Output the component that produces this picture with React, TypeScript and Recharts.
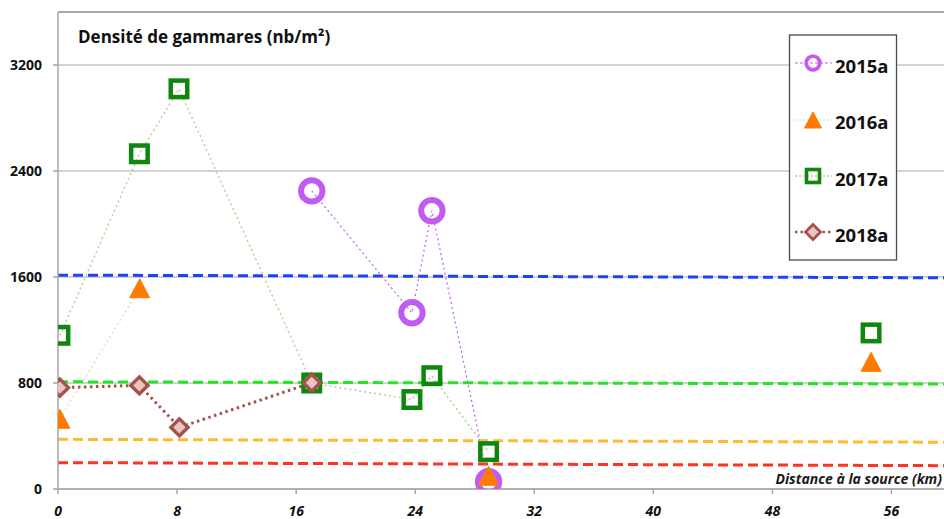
import React from "react";
import { ComposedChart, Line, XAxis, YAxis, CartesianGrid, ReferenceLine } from "recharts";

const xTicks = [0, 8, 16, 24, 32, 40, 48, 56];
const yTicks = [0, 800, 1600, 2400, 3200];

const dist2015 = [17.05, 23.78, 25.12, 28.93];
const dens2015 = [2250, 1330, 2100, 55];
const dist2016 = [0.13, 5.49, 28.93, 54.63];
const dens2016 = [530, 1515, 100, 960];
const dist2017 = [0.13, 5.47, 8.13, 17.05, 23.78, 25.12, 28.93, 54.63];
const dens2017 = [1160, 2530, 3020, 800, 675, 855, 282, 1178];
const dist2018 = [0.13, 5.47, 8.16, 17.05];
const dens2018 = [765, 782, 465, 802];

const refX = [0, 60];
const refBlue = [1614, 1594];
const refGreen = [809, 792];
const refOrange = [375, 353];
const refRed = [199, 176];

const seriesNames = ["2015a", "2016a", "2017a", "2018a"];

const mk = (xs: number[], ys: number[]) => xs.map((x, i) => ({ x, y: ys[i] }));

const data2015 = mk(dist2015, dens2015);
const data2016 = mk(dist2016, dens2016);
const data2017 = mk(dist2017, dens2017);
const data2018 = mk(dist2018, dens2018);
const path2016 = data2016.slice(0, 2);
const path2017 = data2017.slice(0, 7);

const FONT = '"Open Sans", "DejaVu Sans", sans-serif';
const PURPLE = "#c15cf2";
const ORANGE = "#ff7a00";
const GREEN = "#0f870f";
const BROWN = "#a2534d";
const BROWN_FILL = "#e8c5c1";

const CircleMark = ({ cx, cy, r = 10.7, sw = 6 }: any) => (
  <circle cx={cx} cy={cy} r={r} fill="none" stroke={PURPLE} strokeWidth={sw} />
);
const TriMark = ({ cx, cy, w = 20, h = 19 }: any) => (
  <polygon
    points={`${cx},${cy - h / 2} ${cx + w / 2},${cy + h / 2} ${cx - w / 2},${cy + h / 2}`}
    fill={ORANGE}
    stroke={ORANGE}
    strokeWidth={1}
    strokeLinejoin="round"
  />
);
const SqMark = ({ cx, cy, s = 16.5, sw = 4.5 }: any) => (
  <rect x={cx - s / 2} y={cy - s / 2} width={s} height={s} fill="none" stroke={GREEN} strokeWidth={sw} />
);
const DiaMark = ({ cx, cy, d = 8.5, sw = 3.5 }: any) => (
  <polygon
    points={`${cx},${cy - d} ${cx + d},${cy} ${cx},${cy + d} ${cx - d},${cy}`}
    fill={BROWN_FILL}
    stroke={BROWN}
    strokeWidth={sw}
    strokeLinejoin="miter"
  />
);

const dotFn = (Comp: any) => (props: any) => {
  if (props.cx == null || props.cy == null || props.value == null) return <g key={props.index} />;
  return <Comp key={props.index} cx={props.cx} cy={props.cy} />;
};

const XLabel = (props: any) => {
  const vb = props.viewBox || {};
  return (
    <text
      x={vb.x + vb.width - 9}
      y={vb.y - 5}
      textAnchor="end"
      fontFamily={FONT}
      fontSize={14}
      fontWeight={700}
      fontStyle="italic"
      fill="#1a1a1a"
    >
      Distance à la source (km)
    </text>
  );
};

export default function App() {
  const legendRows = [
    { y: 63, tb: 72.5, line: { stroke: PURPLE, dash: "3 2", w: 1.2 }, mark: <CircleMark cx={813} cy={63} r={6.8} sw={3.8} /> },
    { y: 120, tb: 129.3, line: { stroke: "#b6f0a8", dash: "2 2", w: 1.2 }, mark: <TriMark cx={813} cy={120} w={17} h={16} /> },
    { y: 176, tb: 185.7, line: { stroke: "#bccf96", dash: "2 2", w: 1.4 }, mark: <SqMark cx={813} cy={176} s={13} sw={3.6} /> },
    { y: 232, tb: 242.3, line: { stroke: BROWN, dash: "2.5 3", w: 2.6 }, mark: <DiaMark cx={813} cy={232} d={7.5} sw={2.8} /> },
  ];
  return (
    <div
      style={{
        position: "absolute",
        left: 0,
        top: 0,
        width: 944,
        height: 519,
        overflow: "hidden",
        background: "#fff",
      }}
    >
      <ComposedChart width={952} height={519} margin={{ top: 12, right: 1, bottom: 0, left: 0 }}>
        <CartesianGrid vertical={false} stroke="#c4c4c4" strokeWidth={1.5} />
        <ReferenceLine y={3600} stroke="#a8a8a8" strokeWidth={2} ifOverflow="extendDomain" />
        <XAxis
          type="number"
          dataKey="x"
          domain={[0, 60]}
          ticks={xTicks}
          height={30}
          tickSize={5}
          tickMargin={12}
          interval={0}
          axisLine={{ stroke: "#a6a6a6", strokeWidth: 1.5 }}
          tickLine={{ stroke: "#a6a6a6", strokeWidth: 1.5 }}
          tick={{ fill: "#111", fontSize: 14, fontWeight: 700, fontStyle: "italic", fontFamily: FONT }}
          label={<XLabel />}
          allowDataOverflow
        />
        <YAxis
          type="number"
          domain={[0, 3600]}
          ticks={yTicks}
          width={58}
          tickSize={5}
          tickMargin={11}
          interval={0}
          axisLine={{ stroke: "#a6a6a6", strokeWidth: 1.5 }}
          tickLine={{ stroke: "#a6a6a6", strokeWidth: 1.5 }}
          tick={{ fill: "#111", fontSize: 14, fontWeight: 700, fontFamily: FONT }}
          allowDataOverflow
        />

        <Line data={mk(refX, refBlue)} dataKey="y" name="refBlue" stroke="#2040ff" strokeWidth={3} strokeDasharray="10 5" dot={false} activeDot={false} isAnimationActive={false} legendType="none" />
        <Line data={mk(refX, refGreen)} dataKey="y" name="refGreen" stroke="#22e622" strokeWidth={3} strokeDasharray="10 5" dot={false} activeDot={false} isAnimationActive={false} legendType="none" />
        <Line data={mk(refX, refOrange)} dataKey="y" name="refOrange" stroke="#ffbb2e" strokeWidth={3} strokeDasharray="10 5" dot={false} activeDot={false} isAnimationActive={false} legendType="none" />
        <Line data={mk(refX, refRed)} dataKey="y" name="refRed" stroke="#ff3322" strokeWidth={3} strokeDasharray="10 5" dot={false} activeDot={false} isAnimationActive={false} legendType="none" />

        <Line data={data2015} dataKey="y" name={seriesNames[0] + "-path"} stroke={PURPLE} strokeWidth={1.2} strokeDasharray="2 3" dot={false} activeDot={false} isAnimationActive={false} />
        <Line data={path2016} dataKey="y" name={seriesNames[1] + "-path"} stroke="#b6f0a8" strokeWidth={1.2} strokeDasharray="2 3" dot={false} activeDot={false} isAnimationActive={false} />
        <Line data={path2017} dataKey="y" name={seriesNames[2] + "-path"} stroke="#bccf96" strokeWidth={1.5} strokeDasharray="2 3" dot={false} activeDot={false} isAnimationActive={false} />
        <Line data={data2018} dataKey="y" name={seriesNames[3] + "-path"} stroke={BROWN} strokeWidth={3} strokeDasharray="2.5 3.5" dot={false} activeDot={false} isAnimationActive={false} />

        <Line data={data2015} dataKey="y" name={seriesNames[0]} stroke="none" dot={dotFn(CircleMark)} activeDot={false} isAnimationActive={false} />
        <Line data={data2016} dataKey="y" name={seriesNames[1]} stroke="none" dot={dotFn(TriMark)} activeDot={false} isAnimationActive={false} />
        <Line data={data2017} dataKey="y" name={seriesNames[2]} stroke="none" dot={dotFn(SqMark)} activeDot={false} isAnimationActive={false} />
        <Line data={data2018} dataKey="y" name={seriesNames[3]} stroke="none" dot={dotFn(DiaMark)} activeDot={false} isAnimationActive={false} />
      </ComposedChart>

      <svg
        width={944}
        height={519}
        style={{ position: "absolute", left: 0, top: 0, pointerEvents: "none" }}
      >
        <text x={78} y={43} fontFamily={FONT} fontSize={17} fontWeight={700} fill="#111">
          Densité de gammares (nb/m²)
        </text>
        <rect x={789.5} y={35} width={107} height={225} fill="#fff" stroke="#4a4a4a" strokeWidth={1.3} />
        {legendRows.map((r, i) => (
          <g key={seriesNames[i]}>
            <line x1={795} x2={832} y1={r.y} y2={r.y} stroke={r.line.stroke} strokeWidth={r.line.w} strokeDasharray={r.line.dash} />
            {r.mark}
            <text x={835} y={r.tb} fontFamily={FONT} fontSize={18.5} fontWeight={700} fill="#111">
              {seriesNames[i]}
            </text>
          </g>
        ))}
      </svg>
    </div>
  );
}
